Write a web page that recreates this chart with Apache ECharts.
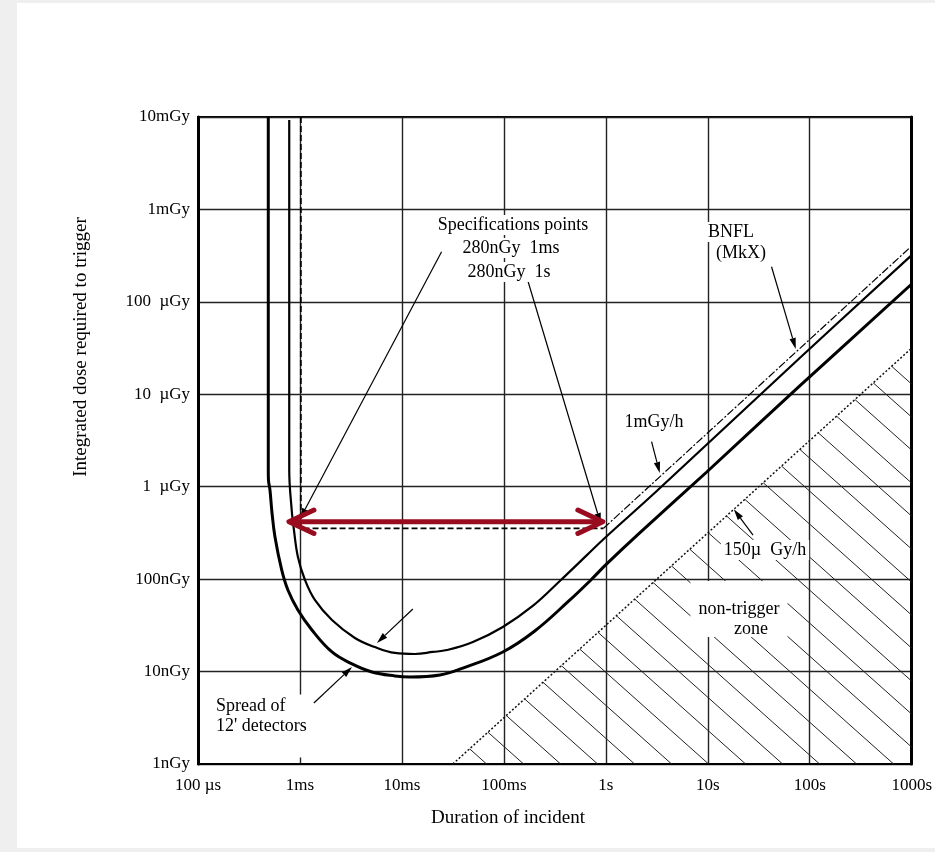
<!DOCTYPE html>
<html><head><meta charset="utf-8">
<script src="https://cdn.jsdelivr.net/npm/echarts@6/dist/echarts.min.js"></script>
<style>
html,body{margin:0;padding:0;background:#efefef;width:935px;height:852px;overflow:hidden;}
#panel{position:absolute;left:17px;top:3px;width:918px;height:845px;background:#fff;}
#chart{position:absolute;left:0;top:0;width:935px;height:852px;}
</style></head><body>
<div id="panel"></div><div id="chart"></div>
<script>
// Tick labels (one per decade)
const xTickLabels = ['100 µs','1ms','10ms','100ms','1s','10s','100s','1000s'];
const yTickLabels = ['1nGy','10nGy','100nGy','1  µGy','10  µGy','100  µGy','1mGy','10mGy'];

// Curves: [duration (s), integrated dose (nGy)]
const outerCurve = [
  [4.89e-4, 1e7], [4.89e-4, 1517], [4.91e-4, 1183], [5.08e-4, 921], [5.31e-4, 533],
  [5.69e-4, 286], [6.62e-4, 126], [7.62e-4, 76.3], [9.55e-4, 46.4], [1.31e-3, 28.2],
  [2.06e-3, 16.3], [3.24e-3, 12.1], [5.08e-3, 9.89], [8.53e-3, 8.96], [1.20e-2, 8.73],
  [2.36e-2, 9.18], [3.96e-2, 10.9], [9.77e-2, 16.3], [0.201, 27.5], [0.434, 58.1],
  [0.713, 98], [1.02, 146], [2.15, 316], [9.77, 1443], [79.8, 12300], [1000, 1.56e5]
];
const innerCurve = [
  [7.85e-4, 9.3e6], [7.85e-4, 1517], [8.30e-4, 560], [8.73e-4, 340], [9.55e-4, 174],
  [1.12e-3, 97.9], [1.40e-3, 59.5], [2.06e-3, 36.1], [3.46e-3, 23.1], [5.43e-3, 18.4],
  [8.53e-3, 15.9], [1.34e-2, 15.5], [2.01e-2, 16.3], [2.76e-2, 17.1], [4.97e-2, 20.9],
  [9.77e-2, 30.4], [0.192, 51.3], [0.354, 95.5], [0.652, 182], [0.977, 279],
  [3.16, 900], [79.8, 24700], [1000, 3.2e5]
];
// Specification points envelope (dashed) and BNFL / 1mGy/h line (dash-dot)
const specLine = [[1.02e-3, 1e7], [1.02e-3, 355], [0.95, 355]];
const bnflLine = [[0.95, 355], [1000, 4.02e5]];
// 150 µGy/h line bounding the non-trigger zone (dotted)
const lowRateLine = [[0.0316, 1], [1000, 31623]];
// Red double arrow between the two specification points
const specArrow = [[7.8e-4, 418, 0.935, 418]];
// Pointer arrows: [fromT, fromD, toT, toD]
const pointerArrows = [
  [1.37e-3, 4.57, 3.24e-3, 11.2],
  [1.28e-2, 47.5, 5.69e-3, 20.4],
  [2.45e-2, 3.49e5, 1.0e-3, 448],
  [0.173, 1.65e5, 0.893, 395],
  [42.2, 2.40e5, 72.9, 3.09e4],
  [2.81, 3070, 3.38, 1407],
  [27.8, 300, 18.0, 570]
];
// Annotation texts
const notes = [
  {t:'Specifications points', x:513, y:225},
  {t:'280nGy  1ms', x:511, y:248},
  {t:'280nGy  1s', x:509, y:272},
  {t:'BNFL', x:731, y:232},
  {t:'(MkX)', x:741, y:253},
  {t:'1mGy/h', x:654, y:422},
  {t:'150µ  Gy/h', x:765, y:550},
  {t:'non-trigger', x:739, y:609, pad:[8,8,30,8]},
  {t:'zone', x:751, y:629, bg:'none', z:101},
  {t:"12' detectors", x:216, y:726, align:'left', pad:[36,2,9,0]},
  {t:'Spread of', x:216, y:706, align:'left', bg:'none', z:101}
];

const serif = '"Liberation Serif","Times New Roman",serif';

function makeHatch(){
  const W = 37, H = 33;
  const c = document.createElement('canvas');
  c.width = W; c.height = H;
  const g = c.getContext('2d');
  g.strokeStyle = '#222'; g.lineWidth = 1;
  for (let i = -1; i <= 1; i++) for (let j = -1; j <= 1; j++) {
    g.beginPath(); g.moveTo(i*W, j*H); g.lineTo(i*W + W, j*H + H); g.stroke();
  }
  return c;
}

const chart = echarts.init(document.getElementById('chart'));

const option = {
  animation: false,
  grid: {left:198, right:23, top:117, bottom:88, show:true, borderColor:'#000', borderWidth:2},
  xAxis: {
    type:'log', logBase:10, min:1e-4, max:1e3,
    axisLine:{show:true, onZero:false, lineStyle:{color:'#000', width:2}},
    axisTick:{show:false},
    splitLine:{show:true, lineStyle:{color:'#222', width:1.4}},
    axisLabel:{formatter:v => xTickLabels[Math.round(Math.log10(v)) + 4], fontFamily:serif, fontSize:17, color:'#000', margin:13}
  },
  yAxis: [{
    type:'log', logBase:10, min:1, max:1e7,
    axisLine:{show:true, onZero:false, lineStyle:{color:'#000', width:3}},
    axisTick:{show:false},
    splitLine:{show:true, lineStyle:{color:'#222', width:1.4}},
    axisLabel:{formatter:v => yTickLabels[Math.round(Math.log10(v))], fontFamily:serif, fontSize:17, color:'#000', margin:8}
  }, {
    type:'log', logBase:10, min:1, max:1e7, position:'right',
    axisLine:{show:true, onZero:false, lineStyle:{color:'#000', width:3}},
    axisTick:{show:false}, axisLabel:{show:false}, splitLine:{show:false}
  }],
  series: [
    {type:'line', data:lowRateLine, symbol:'none', silent:true, z:1,
     lineStyle:{color:'#111', width:1.5, type:[2,2]},
     areaStyle:{origin:'start', opacity:1, color:{image:makeHatch(), repeat:'repeat'}}},
    {type:'line', data:outerCurve, symbol:'none', smooth:0.4, silent:true, z:3,
     lineStyle:{color:'#000', width:3}},
    {type:'line', data:innerCurve, symbol:'none', smooth:0.4, silent:true, z:3,
     lineStyle:{color:'#000', width:2.2}},
    {type:'line', data:specLine, symbol:'none', silent:true, z:3,
     lineStyle:{color:'#000', width:1.8, type:[6,3]}},
    {type:'line', data:bnflLine, symbol:'none', silent:true, z:3,
     lineStyle:{color:'#000', width:1.2, type:[8,2,2,2]}},
    {type:'custom', data:pointerArrows, silent:true, z:4,
     encode:{x:[0,2], y:[1,3]},
     renderItem:function(params, api){
       const p1 = api.coord([api.value(0), api.value(1)]);
       const p2 = api.coord([api.value(2), api.value(3)]);
       const dx = p2[0]-p1[0], dy = p2[1]-p1[1], L = Math.hypot(dx,dy);
       const ux = dx/L, uy = dy/L, hl = 11, hw = 3.2;
       const b = [p2[0]-ux*hl, p2[1]-uy*hl];
       return {type:'group', children:[
         {type:'line', shape:{x1:p1[0], y1:p1[1], x2:b[0], y2:b[1]}, style:{stroke:'#000', lineWidth:1.2}},
         {type:'polygon', shape:{points:[p2, [b[0]-uy*hw, b[1]+ux*hw], [b[0]+uy*hw, b[1]-ux*hw]]}, style:{fill:'#000'}}
       ]};
     }},
    {type:'custom', data:specArrow, silent:true, z:6,
     encode:{x:[0,2], y:[1,3]},
     renderItem:function(params, api){
       const a = api.coord([api.value(0), api.value(1)]);
       const b = api.coord([api.value(2), api.value(3)]);
       const st = {stroke:'#990c1f', lineWidth:5, lineCap:'round', lineJoin:'round', fill:null};
       const ax = 25, ay = 11.7;
       return {type:'group', children:[
         {type:'line', shape:{x1:a[0]+3, y1:a[1], x2:b[0]-3, y2:b[1]}, style:st},
         {type:'polyline', shape:{points:[[a[0]+ax, a[1]-ay], a, [a[0]+ax, a[1]+ay]]}, style:st},
         {type:'polyline', shape:{points:[[b[0]-ax, b[1]-ay], b, [b[0]-ax, b[1]+ay]]}, style:st}
       ]};
     }}
  ],
  graphic: notes.map(d => {
    const st = {text:d.t, x:d.x, y:d.y, font:'18px ' + serif, fill:'#000',
                align:d.align || 'center', verticalAlign:'middle',
                textAlign:d.align || 'center', textVerticalAlign:'middle'};
    if (d.bg !== 'none') { st.backgroundColor = '#fff'; st.padding = d.pad || [1,3,1,3]; }
    return {type:'text', z:d.z || 100, silent:true, style:st};
  }).concat([
    {type:'text', z:100, silent:true,
     style:{text:'Duration of incident', x:508, y:818, font:'19px ' + serif, fill:'#000',
            align:'center', verticalAlign:'middle', textAlign:'center', textVerticalAlign:'middle'}},
    {type:'text', z:100, silent:true, x:81, y:347, rotation:Math.PI/2,
     style:{text:'Integrated dose required to trigger', x:0, y:0, font:'19px ' + serif, fill:'#000',
            align:'center', verticalAlign:'middle', textAlign:'center', textVerticalAlign:'middle'}}
  ])
};
chart.setOption(option);
</script>
</body></html>
